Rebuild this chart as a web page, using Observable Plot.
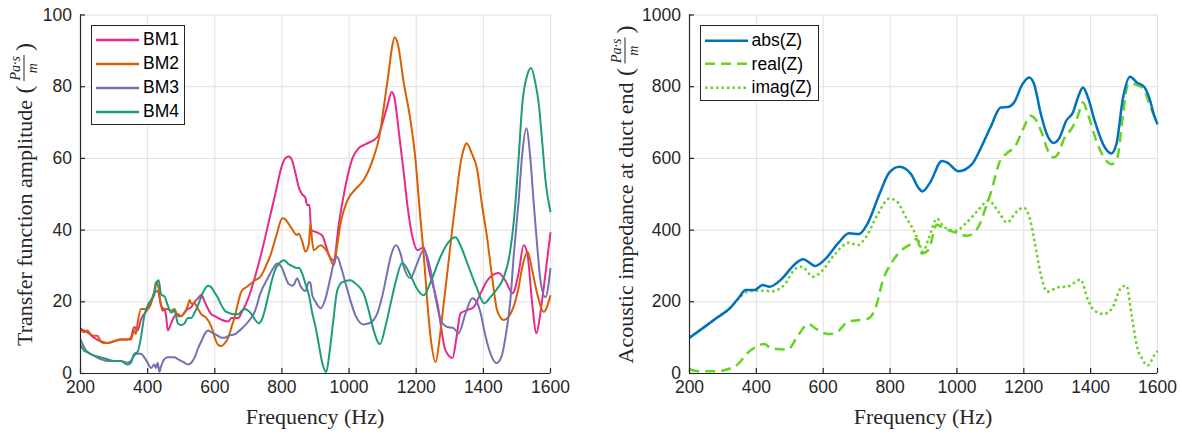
<!DOCTYPE html>
<html>
<head>
<meta charset="utf-8">
<script src="https://cdn.jsdelivr.net/npm/d3@7"></script>
<script src="https://cdn.jsdelivr.net/npm/@observablehq/plot@0.6"></script>
<style>
  body { margin: 0; background: #fff; }
  #wrap { position: relative; width: 1182px; height: 435px; overflow: hidden; background: #fff; }
  .panel { position: absolute; top: 0; }
  .xlab { position: absolute; top: 406px; font-family: "Liberation Serif", "Times New Roman", serif; font-size: 22px; line-height: 22px; color: #262626; transform: translateX(-50%); white-space: nowrap; }
  .ylab { position: absolute; transform: translate(-50%, -50%) rotate(-90deg); white-space: nowrap; font-family: "Liberation Serif", "Times New Roman", serif; font-size: 22px; color: #262626; display: flex; align-items: center; }
  .frac { display: inline-flex; flex-direction: column; align-items: center; font-style: italic; font-size: 14px; line-height: 1; margin: 0 3px; }
  .num { border-bottom: 1px solid #262626; padding: 0 1px 1px 1px; }
  .den { padding-top: 1px; }
  .paren { font-size: 24px; margin: 0 1px; }
  .legend { position: absolute; box-sizing: border-box; border: 1px solid #262626; background: #fff; font-family: "Liberation Sans", Arial, sans-serif; font-size: 17.5px; color: #000; }
  .legend .row { display: flex; align-items: center; height: 24px; }
  .legend svg { display: block; }
</style>
</head>
<body>
<div id="wrap"></div>
<script>
// ---------- data ----------
const freqTicks = [200, 400, 600, 800, 1000, 1200, 1400, 1600];
const leftTicks = [0, 20, 40, 60, 80, 100];
const rightTicks = [0, 200, 400, 600, 800, 1000];
const bmNames = ["BM1", "BM2", "BM3", "BM4"];
const bmColors = ["#e7298a", "#d95f02", "#7570b3", "#1b9e77"];
const zNames = ["abs(Z)", "real(Z)", "imag(Z)"];
const zColors = ["#0072bd", "#64d41e", "#64d41e"];

// [frequency Hz, transfer function amplitude]
const BM1 = [[200,12.5],[210,12],[220,11.5],[240,10],[260,9],[280,8.5],[300,9],[320,9.5],[340,9.5],[350,10],[360,13],[370,12],[380,15],[400,18],[410,20],[420,22.5],[430,23],[440,19],[445,17.5],[450,18],[455,16],[460,12],[470,14],[480,16],[490,16.5],[500,16],[510,17],[520,18],[530,18.5],[540,20],[550,21],[560,22],[570,20],[580,18],[590,16.5],[600,16],[620,15],[640,14.5],[650,15.5],[670,15.5],[680,17],[700,21],[720,27],[740,34],[760,42],[780,50],[800,58],[810,60],[820,60.5],[830,59.5],[840,56],[850,52],[860,50],[870,49],[875,47],[882,47],[887,40],[900,39.5],[920,38.5],[930,36],[940,33],[954,31.6],[970,42],[995,54.8],[1010,60],[1028,62.8],[1050,64],[1085,66],[1100,70],[1115,75],[1127,78.5],[1135,77],[1150,66],[1162,56.7],[1175,46],[1189,38],[1204,34.4],[1222,35.2],[1240,28],[1263,19.6],[1287,6.5],[1308,4.3],[1320,10],[1332,16.8],[1352,17.7],[1371,18.5],[1390,22],[1412,26],[1445,28],[1465,26],[1487,22.4],[1505,28],[1520,35.8],[1531,33.5],[1545,20],[1558,11.2],[1570,17],[1580,24],[1600,39.4]];
const BM2 = [[200,12.5],[210,11.5],[220,12],[230,11],[240,10.5],[250,10.5],[260,9],[270,8.5],[280,8.5],[300,9],[320,9.5],[340,9.5],[350,9.5],[360,12],[365,11],[370,14],[380,18],[400,18],[410,19.5],[420,23],[425,25.5],[432,24],[440,19],[450,18],[460,18],[470,17.5],[480,18],[490,16],[500,16],[510,17],[520,19],[525,20.5],[530,19.5],[540,19.5],[550,18],[560,16.5],[572,15.8],[590,13],[600,10],[610,8],[620,7.7],[630,8.5],[640,10],[650,13],[660,16],[670,20],[680,23],[696,24.2],[720,26],[736,27],[750,29.5],[766,33],[785,39],[801,43.3],[810,43],[826,40.9],[845,38.6],[850,39],[860,37],[870,34],[880,36],[885,41.8],[890,37],[895,34.4],[915,35.8],[935,34],[955,30.2],[965,36],[975,42],[995,48.3],[1020,51.5],[1043,53.9],[1073,60.3],[1090,66],[1103,74],[1118,84],[1128,91],[1136,93.8],[1145,92],[1163,81],[1183,70.6],[1198,59.5],[1210,46],[1222,33.5],[1233,20],[1243,10],[1258,3.2],[1270,10],[1282,19.6],[1295,30],[1307,40],[1320,50],[1332,58.6],[1343,63],[1350,64.2],[1365,61.5],[1382,56.7],[1396,47],[1411,38],[1426,27],[1441,17.6],[1461,14.9],[1475,15.8],[1490,18.6],[1505,24],[1516,29.7],[1532,33.9],[1545,29],[1560,22.4],[1580,17.2],[1600,21.8]];
const BM3 = [[200,9.5],[210,7.5],[220,6],[240,5],[260,4],[280,3.5],[300,3.5],[320,3.5],[340,3],[350,3.5],[360,5],[370,5.5],[380,5.5],[390,4.5],[400,3],[410,1.5],[420,2.5],[425,1.5],[430,3],[435,0.5],[440,2],[450,4],[460,4.5],[470,4.5],[480,4.5],[490,4],[500,3.5],[510,3],[520,2.5],[530,3],[540,4.5],[550,7],[560,9],[570,11],[580,12],[590,11.5],[600,11],[610,10.5],[620,10],[630,10],[640,10.5],[660,11],[680,12.5],[700,14.5],[720,17.5],[736,22.4],[760,27],[775,29.5],[786,30.7],[800,29.5],[810,27],[820,25],[830,24.5],[837,25],[845,26.6],[855,24.5],[870,23],[880,25.5],[885,25.2],[890,22],[900,20],[915,18.2],[930,21],[945,27],[955,31],[965,32.5],[975,30],[990,25],[1004,20.4],[1020,16],[1043,13.7],[1060,14],[1084,16.8],[1100,22],[1113,27.9],[1125,33],[1140,35.8],[1153,33.5],[1163,29.7],[1183,26.6],[1200,30],[1222,34.4],[1243,28.8],[1258,21],[1273,14.9],[1292,13],[1312,12.6],[1326,11.2],[1347,16.8],[1367,21],[1380,20],[1392,16.8],[1405,11],[1421,5.6],[1439,2.9],[1455,5],[1466,10.2],[1480,20],[1491,33.5],[1505,48],[1516,61.4],[1528,68.4],[1540,60],[1550,47.5],[1560,36],[1570,26],[1585,21.3],[1600,29.4]];
const BM4 = [[200,8],[210,6.5],[220,6],[240,5],[260,4.5],[280,4],[300,3.5],[320,3.5],[330,3],[340,2.5],[350,3],[360,5.5],[370,6],[380,10],[390,16],[400,19],[410,20.5],[420,22],[425,25],[433,26],[440,22],[450,21.5],[460,19],[470,17],[480,17.5],[490,14],[500,13.5],[510,14],[520,15.5],[530,15.5],[540,17],[550,19],[560,21.5],[570,23.5],[580,24.5],[590,24],[600,22.5],[610,21],[620,19],[630,17.5],[640,17],[660,16.5],[670,16.5],[680,17.5],[690,18],[700,17.5],[710,16.5],[720,15],[730,14],[740,15],[750,18],[760,22],[770,26],[780,29],[790,30.5],[806,31.6],[820,30.5],[830,30],[845,29.4],[850,29.5],[860,28],[870,25],[880,22],[890,17],[900,13],[910,8],[920,3],[932,0.4],[942,6],[952,14],[965,23.2],[980,25.5],[1004,26],[1020,25],[1043,22.4],[1060,17],[1073,12.1],[1092,8.2],[1108,13],[1124,19.6],[1140,26],[1158,30.8],[1183,27.4],[1200,24],[1222,21.8],[1245,26],[1272,32.5],[1295,36.5],[1317,38],[1335,35],[1352,30.8],[1380,24],[1402,19.6],[1421,21.3],[1440,23.5],[1461,26.9],[1478,33],[1491,42.7],[1505,60],[1516,75.2],[1530,83],[1542,85.2],[1555,81],[1565,75.2],[1575,65],[1585,53.9],[1600,45]];

// [frequency Hz, acoustic impedance]
const ABSZ = [[200,100],[242,128],[283,156],[323,184],[348,212],[368,233],[394,233],[419,247],[439,242],[475,263],[515,305],[540,319],[576,300],[606,319],[646,365],[677,391],[707,389],[732,417],[768,500],[798,561],[828,577],[863,556],[884,519],[897,508],[920,533],[955,593],[970,589],[1005,564],[1045,584],[1070,626],[1100,686],[1131,742],[1156,744],[1171,756],[1196,807],[1216,826],[1231,807],[1251,724],[1271,663],[1289,643],[1307,658],[1327,705],[1347,728],[1362,770],[1377,798],[1392,770],[1412,705],[1437,640],[1462,614],[1477,640],[1497,770],[1518,828],[1538,812],[1560,800],[1575,770],[1590,720],[1600,695]];
const REALZ = [[200,12],[230,6],[280,6],[315,12],[345,26],[370,54],[398,74],[424,82],[445,70],[494,67],[524,105],[555,138],[580,124],[615,110],[635,112],[676,145],[707,149],[732,152],[757,184],[778,258],[808,314],[838,347],[860,360],[880,375],[895,335],[915,345],[940,415],[960,405],[980,398],[1000,392],[1030,384],[1050,392],[1070,420],[1085,460],[1100,500],[1130,595],[1150,615],[1175,635],[1200,686],[1220,719],[1235,709],[1255,668],[1270,626],[1290,603],[1305,617],[1320,654],[1345,686],[1360,714],[1377,756],[1392,723],[1417,649],[1437,607],[1463,584],[1480,603],[1497,723],[1512,807],[1530,807],[1560,790],[1580,740],[1600,700]];
const IMAGZ = [[200,100],[240,127],[280,154],[320,182],[350,212],[370,227],[395,231],[425,231],[445,229],[485,249],[515,291],[535,298],[570,270],[596,286],[635,333],[677,365],[702,358],[727,379],[763,444],[798,488],[818,482],[848,435],[870,400],[885,370],[898,340],[915,375],[940,432],[960,410],[995,398],[1030,422],[1060,452],[1095,482],[1125,450],[1150,421],[1176,449],[1200,463],[1218,432],[1232,370],[1250,280],[1270,228],[1300,240],[1332,243],[1370,262],[1392,205],[1412,175],[1438,166],[1463,180],[1492,240],[1507,245],[1523,160],[1540,70],[1555,40],[1570,22],[1590,50],[1600,63]];

// ---------- drawing ----------
const wrap = document.getElementById("wrap");
const axisColor = "#262626";
const gridColor = "#e0e0e0";

function panel({series, yDomain, yTicks, width, mL, mR, left}) {
  const tickLenY = (yDomain[1] - yDomain[0]) * 5 / 358;
  const tickLenX = 1400 * 5 / (width - mL - mR);
  const chart = Plot.plot({
    width, height: 435,
    marginLeft: mL, marginRight: mR, marginTop: 14.5, marginBottom: 62,
    style: {fontFamily: '"Liberation Sans", Arial, sans-serif', fontSize: "17.5px", color: axisColor, background: "transparent", overflow: "visible"},
    x: {domain: [200, 1600], label: null},
    y: {domain: yDomain, label: null},
    marks: [
      Plot.ruleX(freqTicks, {stroke: gridColor, strokeWidth: 1}),
      Plot.ruleY(yTicks, {stroke: gridColor, strokeWidth: 1}),
      ...series.map(s => Plot.line(s.data, {
        x: d => d[0], y: d => d[1], stroke: s.color, strokeWidth: s.width,
        strokeDasharray: s.dash, curve: "monotone-x", strokeLinecap: "butt", strokeLinejoin: "round"
      })),
      Plot.ruleX([200], {stroke: axisColor, strokeWidth: 1.2}),
      Plot.ruleY([yDomain[0]], {stroke: axisColor, strokeWidth: 1.2}),
      Plot.ruleX(freqTicks, {y1: yDomain[0], y2: yDomain[0] + tickLenY, stroke: axisColor, strokeWidth: 1.2}),
      Plot.ruleY(yTicks, {x1: 200, x2: 200 + tickLenX, stroke: axisColor, strokeWidth: 1.2}),
      Plot.axisX({ticks: freqTicks, tickSize: 0, tickPadding: 7, label: null, tickFormat: d => String(d)}),
      Plot.axisY({ticks: yTicks, tickSize: 0, tickPadding: 8.5, label: null, tickFormat: d => String(d)})
    ]
  });
  chart.classList.add("panel");
  chart.style.left = left + "px";
  wrap.appendChild(chart);
}

panel({
  series: [BM1, BM2, BM3, BM4].map((data, i) => ({data, color: bmColors[i], width: 2, dash: null})),
  yDomain: [0, 100], yTicks: leftTicks, width: 570, mL: 80, mR: 20, left: 0
});
panel({
  series: [
    {data: REALZ, color: zColors[1], width: 2.5, dash: "10,6"},
    {data: IMAGZ, color: zColors[2], width: 2.5, dash: "2.5,3"},
    {data: ABSZ, color: zColors[0], width: 2.5, dash: null}
  ],
  yDomain: [0, 1000], yTicks: rightTicks, width: 573, mL: 80, mR: 25, left: 609
});

// axis labels
function addDiv(cls, html, styles) {
  const d = document.createElement("div");
  d.className = cls;
  d.innerHTML = html;
  Object.assign(d.style, styles);
  wrap.appendChild(d);
  return d;
}
addDiv("xlab", "Frequency (Hz)", {left: "315px"});
addDiv("xlab", "Frequency (Hz)", {left: "923px"});
const fracHTML = '<span class="paren">(</span><span class="frac"><span class="num">Pa·s</span><span class="den">m</span></span><span class="paren">)</span>';
addDiv("ylab", 'Transfer function amplitude&nbsp;' + fracHTML, {left: "24px", top: "194px"});
addDiv("ylab", 'Acoustic impedance at duct end&nbsp;' + fracHTML, {left: "625px", top: "194px"});

// legends
function legend(items, box) {
  const d = document.createElement("div");
  d.className = "legend";
  Object.assign(d.style, {left: box.left + "px", top: box.top + "px", width: box.width + "px", height: box.height + "px", paddingTop: box.pad + "px", paddingLeft: box.padL + "px"});
  items.forEach(it => {
    const row = document.createElement("div");
    row.className = "row";
    row.style.height = box.rowH + "px";
    row.innerHTML = `<svg width="43" height="${box.rowH}"><line x1="0" x2="43" y1="${box.rowH/2}" y2="${box.rowH/2}" stroke="${it.color}" stroke-width="${it.width}" ${it.dash ? `stroke-dasharray="${it.dash}"` : ""}/></svg><span style="margin-left:4px">${it.name}</span>`;
    d.appendChild(row);
  });
  wrap.appendChild(d);
}
legend(bmNames.map((name, i) => ({name, color: bmColors[i], width: 2.5, dash: null})),
  {left: 91, top: 25, width: 94, height: 100, pad: 1.5, padL: 4, rowH: 24});
legend(zNames.map((name, i) => ({name, color: zColors[i], width: 2.5, dash: [null, "10,6", "2.5,3"][i]})),
  {left: 700, top: 25, width: 119, height: 76, pad: 2.5, padL: 3.6, rowH: 23.7});
</script>
</body>
</html>
